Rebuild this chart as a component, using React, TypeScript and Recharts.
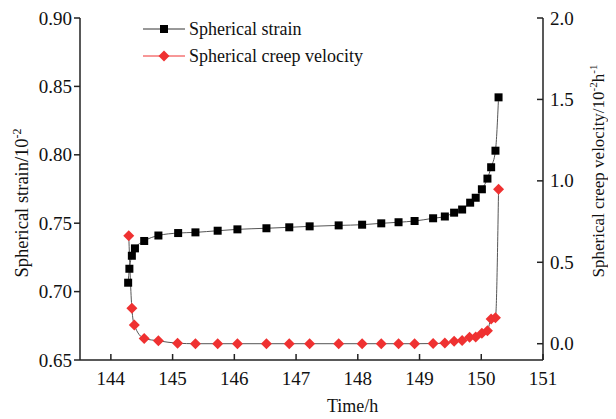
import React from 'react';
import { LineChart, Line, XAxis, YAxis } from 'recharts';

// ── Data ────────────────────────────────────────────────────────────────
const strainTime = [144.28, 144.30, 144.34, 144.39, 144.54, 144.77, 145.09, 145.37, 145.73, 146.05, 146.52, 146.89, 147.22, 147.69, 148.07, 148.38, 148.66, 148.92, 149.22, 149.41, 149.56, 149.69, 149.82, 149.91, 150.01, 150.10, 150.16, 150.23, 150.28];
const strainValues = [0.7065, 0.7167, 0.7262, 0.7316, 0.737, 0.741, 0.7428, 0.7433, 0.7445, 0.7455, 0.7463, 0.747, 0.7477, 0.7484, 0.7489, 0.7499, 0.7507, 0.7516, 0.7536, 0.7549, 0.7577, 0.760, 0.765, 0.7686, 0.7748, 0.7826, 0.7909, 0.803, 0.842];

const velocityTime = [144.29, 144.34, 144.38, 144.54, 144.77, 145.08, 145.37, 145.73, 146.05, 146.52, 146.89, 147.22, 147.69, 148.07, 148.38, 148.66, 148.92, 149.22, 149.41, 149.56, 149.69, 149.81, 149.91, 150.01, 150.10, 150.16, 150.23, 150.28];
const velocityValues = [0.663, 0.217, 0.115, 0.032, 0.018, 0.003, 0, 0, 0, 0, 0, 0, 0, 0, 0, 0, 0, 0.001, 0.004, 0.015, 0.02, 0.039, 0.041, 0.064, 0.08, 0.152, 0.16, 0.948];

const timeTicks = [144, 145, 146, 147, 148, 149, 150, 151];
const strainTicks = [0.65, 0.70, 0.75, 0.80, 0.85, 0.90];
const velocityTicks = [0, 0.5, 1.0, 1.5, 2.0];

const strainData = strainTime.map((t, i) => ({ t, strain: strainValues[i] }));
const velocityData = velocityTime.map((t, i) => ({ t, velocity: velocityValues[i] }));

const FONT = '"Liberation Serif", "Times New Roman", serif';
const AXIS = '#222';
const LINE = '#555';
const RED = '#ef3131';

// ── Markers ─────────────────────────────────────────────────────────────
const Square = ({ cx, cy }: any) =>
  cx == null ? null : <rect x={cx - 4} y={cy - 4} width={8} height={8} fill="#000" />;

const Diamond = ({ cx, cy }: any) =>
  cx == null ? null : (
    <polygon points={`${cx},${cy - 5.5} ${cx + 5.5},${cy} ${cx},${cy + 5.5} ${cx - 5.5},${cy}`} fill={RED} />
  );

// ── Ticks (x and right axis point inward, left axis points outward) ─────
const TimeTick = ({ x, y, payload }: any) => (
  <g>
    <line x1={x} x2={x} y1={y} y2={y - 6} stroke={AXIS} strokeWidth={1.5} />
    <text x={x} y={y + 25} textAnchor="middle" fontFamily={FONT} fontSize={19} fill="#111">{payload.value}</text>
  </g>
);

const StrainTick = ({ x, y, payload }: any) => (
  <g>
    <line x1={x - 6} x2={x} y1={y} y2={y} stroke={AXIS} strokeWidth={1.5} />
    <text x={x - 8} y={y + 6.5} textAnchor="end" fontFamily={FONT} fontSize={19} fill="#111">{payload.value.toFixed(2)}</text>
  </g>
);

const VelocityTick = ({ x, y, payload }: any) => (
  <g>
    <line x1={x - 6} x2={x} y1={y} y2={y} stroke={AXIS} strokeWidth={1.5} />
    <text x={x + 7} y={y + 6.5} textAnchor="start" fontFamily={FONT} fontSize={19} fill="#111">{payload.value.toFixed(1)}</text>
  </g>
);

// ── Axis titles and legend ──────────────────────────────────────────────
const timeTitle = () => (
  <text x={319} y={404} fontFamily={FONT} fontSize={18} fill="#111">Time/h</text>
);

const strainTitle = () => (
  <g>
    <text transform="translate(20,195) rotate(-90)" textAnchor="middle" fontFamily={FONT} fontSize={18.5} fill="#111">
      Spherical strain/10<tspan dy={-7} fontSize={12}>-2</tspan>
    </text>
    {/* legend */}
    <g fontFamily={FONT} fontSize={18} fill="#111">
      <line x1={135} x2={177} y1={21} y2={21} stroke="#333" strokeWidth={1} />
      <rect x={152} y={17} width={8} height={8} fill="#000" />
      <text x={181} y={27}>Spherical strain</text>
      <line x1={135} x2={177} y1={48} y2={48} stroke={RED} strokeWidth={1} />
      <polygon points="156,42.5 161.5,48 156,53.5 150.5,48" fill={RED} />
      <text x={181} y={54}>Spherical creep velocity</text>
    </g>
  </g>
);

const velocityTitle = () => (
  <text transform="translate(596,163) rotate(-90)" textAnchor="middle" fontFamily={FONT} fontSize={17} fill="#111">
    Spherical creep velocity/10<tspan dy={-7} fontSize={11}>-2</tspan><tspan dy={7}>h</tspan><tspan dy={-7} fontSize={11}>-1</tspan>
  </text>
);

export default function App() {
  return (
    <LineChart width={608} height={411} margin={{ top: 10, right: 0, left: 0, bottom: 0 }}>
      <XAxis
        dataKey="t"
        type="number"
        domain={[143.5, 151]}
        ticks={timeTicks}
        allowDataOverflow
        height={59}
        tickSize={0}
        tickMargin={0}
        tickLine={false}
        tick={<TimeTick />}
        axisLine={{ stroke: AXIS, strokeWidth: 1.5 }}
        label={{ content: timeTitle }}
      />
      <YAxis
        yAxisId="strain"
        orientation="left"
        domain={[0.65, 0.9]}
        ticks={strainTicks}
        width={72}
        tickSize={0}
        tickMargin={0}
        tickLine={false}
        tick={<StrainTick />}
        axisLine={{ stroke: AXIS, strokeWidth: 1.5 }}
        label={{ content: strainTitle }}
      />
      <YAxis
        yAxisId="velocity"
        orientation="right"
        domain={[-0.1, 2.0]}
        ticks={velocityTicks}
        width={73}
        tickSize={0}
        tickMargin={0}
        tickLine={false}
        tick={<VelocityTick />}
        axisLine={{ stroke: AXIS, strokeWidth: 1.5 }}
        label={{ content: velocityTitle }}
      />
      <Line
        yAxisId="velocity"
        data={velocityData}
        dataKey="velocity"
        type="monotone"
        stroke={LINE}
        strokeWidth={1}
        dot={<Diamond />}
        activeDot={false}
        isAnimationActive={false}
      />
      <Line
        yAxisId="strain"
        data={strainData}
        dataKey="strain"
        type="monotone"
        stroke={LINE}
        strokeWidth={1}
        dot={<Square />}
        activeDot={false}
        isAnimationActive={false}
      />
    </LineChart>
  );
}
